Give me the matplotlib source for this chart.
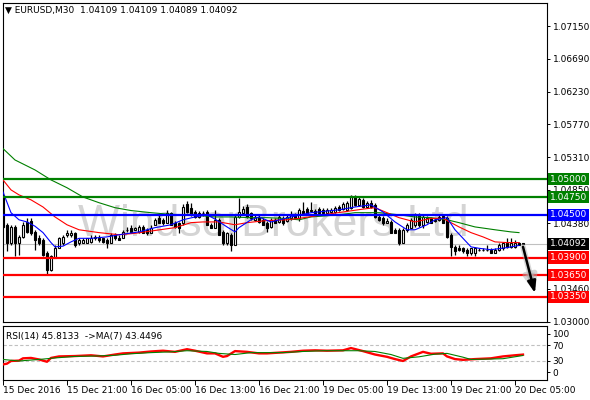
import matplotlib
matplotlib.use("Agg")
import matplotlib.pyplot as plt
import numpy as np

# ---------------- data ----------------
opens = [1.0478,1.0436,1.0411,1.0433,1.0411,1.0419,1.0440,1.0442,1.0426,1.0418,
         1.0414,1.0396,1.0373,1.0390,1.0404,1.0411,1.0422,1.0421,1.0425,1.0411,
         1.0411,1.0411,1.0412,1.0418,1.0418,1.0417,1.0415,1.0411,1.0422,1.0418,
         1.0418,1.0428,1.0432,1.0429,1.0426,1.0433,1.0428,1.0425,1.0436,1.0446,
         1.0443,1.0439,1.0452,1.0439,1.0438,1.0438,1.0465,1.0460,1.0454,1.0447,
         1.0453,1.0454,1.0436,1.0432,1.0443,1.0426,1.0411,1.0422,1.0408,1.0447,
         1.0453,1.0461,1.0452,1.0443,1.0447,1.0443,1.0439,1.0433,1.0443,1.0440,
         1.0446,1.0442,1.0445,1.0450,1.0445,1.0456,1.0458,1.0456,1.0456,1.0458,
         1.0457,1.0453,1.0454,1.0454,1.0461,1.0458,1.0457,1.0460,1.0475,1.0464,
         1.0471,1.0461,1.0467,1.0464,1.0447,1.0446,1.0439,1.0440,1.0428,1.0429,
         1.0411,1.0428,1.0432,1.0435,1.0450,1.0435,1.0440,1.0445,1.0442,1.0443,
         1.0449,1.0446,1.0422,1.0405,1.0404,1.0403,1.0401,1.0396,1.0397,1.0400,
         1.0401,1.0400,1.0401,1.0397,1.0400,1.0403,1.0411,1.0405,1.0405,1.0411,
         1.04109]
closes = [1.0433,1.0411,1.0433,1.0410,1.0419,1.0436,1.0426,1.0425,1.0415,1.0411,
          1.0394,1.0373,1.0392,1.0404,1.0418,1.0419,1.0424,1.0425,1.0408,1.0415,
          1.0415,1.0417,1.0418,1.0419,1.0414,1.0412,1.0410,1.0422,1.0417,1.0415,
          1.0426,1.0429,1.0426,1.0431,1.0433,1.0425,1.0424,1.0432,1.0443,1.0439,
          1.0438,1.0453,1.0436,1.0433,1.0432,1.0461,1.0454,1.0450,1.0447,1.0453,
          1.0452,1.0436,1.0432,1.0443,1.0422,1.0411,1.0424,1.0408,1.0447,1.0454,
          1.0458,1.0447,1.0445,1.0447,1.0440,1.0436,1.0432,1.0443,1.0439,1.0447,
          1.0439,1.0447,1.0450,1.0446,1.0457,1.0453,1.0453,1.0457,1.0453,1.0453,
          1.0453,1.0457,1.0457,1.0460,1.0457,1.0465,1.0467,1.0477,1.0464,1.0472,
          1.0461,1.0467,1.0461,1.0447,1.0443,1.0439,1.0442,1.0425,1.0425,1.0411,
          1.0429,1.0435,1.0443,1.0450,1.0435,1.0447,1.0446,1.0439,1.0443,1.0447,
          1.0439,1.0419,1.0405,1.0399,1.0401,1.0399,1.0397,1.0403,1.0403,1.0401,
          1.0400,1.0401,1.0397,1.0401,1.0408,1.0411,1.0405,1.0411,1.0410,1.0408,
          1.04092]
highs = [1.0482,1.0439,1.0436,1.0435,1.0422,1.0440,1.0446,1.0445,1.0429,1.0421,
         1.0417,1.0399,1.0394,1.0407,1.0419,1.0421,1.0429,1.0429,1.0426,1.0418,
         1.0417,1.0418,1.0421,1.0422,1.0421,1.0418,1.0418,1.0425,1.0425,1.0421,
         1.0429,1.0433,1.0435,1.0433,1.0436,1.0436,1.0431,1.0435,1.0446,1.0450,
         1.0446,1.0457,1.0454,1.0442,1.0440,1.0465,1.0470,1.0467,1.0457,1.0456,
         1.0456,1.0457,1.0439,1.0457,1.0445,1.0429,1.0426,1.0425,1.0450,1.0474,
         1.0463,1.0465,1.0454,1.0450,1.0450,1.0446,1.0442,1.0446,1.0446,1.0450,
         1.0449,1.0450,1.0456,1.0453,1.0460,1.0468,1.0461,1.0468,1.0458,1.0461,
         1.0460,1.0460,1.0460,1.0463,1.0464,1.0468,1.0470,1.0478,1.0478,1.0475,
         1.0474,1.0470,1.0471,1.0467,1.0450,1.0449,1.0445,1.0443,1.0431,1.0431,
         1.0432,1.0438,1.0446,1.0452,1.0452,1.0450,1.0449,1.0447,1.0446,1.0450,
         1.0450,1.0449,1.0425,1.0408,1.0407,1.0405,1.0404,1.0404,1.0405,1.0404,
         1.0404,1.0407,1.0404,1.0404,1.0410,1.0412,1.0417,1.0417,1.0415,1.0412,
         1.04109]
lows = [1.0431,1.0399,1.0408,1.0392,1.0394,1.0418,1.0424,1.0421,1.0401,1.0408,
        1.0392,1.0365,1.0371,1.0389,1.0403,1.0408,1.0419,1.0419,1.0405,1.0408,
        1.0410,1.0410,1.0411,1.0415,1.0412,1.0411,1.0404,1.0410,1.0415,1.0414,
        1.0417,1.0426,1.0425,1.0428,1.0425,1.0424,1.0421,1.0424,1.0435,1.0438,
        1.0435,1.0438,1.0435,1.0431,1.0425,1.0436,1.0453,1.0449,1.0446,1.0446,
        1.0449,1.0435,1.0431,1.0431,1.0421,1.0408,1.0408,1.0399,1.0407,1.0446,
        1.0452,1.0446,1.0443,1.0442,1.0439,1.0435,1.0426,1.0432,1.0438,1.0439,
        1.0436,1.0440,1.0443,1.0445,1.0442,1.0452,1.0452,1.0454,1.0452,1.0452,
        1.0452,1.0452,1.0452,1.0453,1.0456,1.0457,1.0456,1.0458,1.0463,1.0463,
        1.0460,1.0460,1.0460,1.0446,1.0442,1.0435,1.0438,1.0424,1.0424,1.0407,
        1.0410,1.0426,1.0431,1.0433,1.0433,1.0432,1.0439,1.0438,1.0440,1.0442,
        1.0438,1.0418,1.0392,1.0393,1.0399,1.0397,1.0392,1.0394,1.0392,1.0399,
        1.0399,1.0399,1.0396,1.0396,1.0399,1.0401,1.0404,1.0404,1.0404,1.0407,
        1.04089]

# moving averages (bar index, value)
ma_blue_idx = [0,2,4,6,8,10,12,13,15,17,19,22,26,29,34,38,42,45,48,51,53,56,58,59,62,64,67,
               72,77,84,88,92,95,98,101,103,106,108,111,113,117,119,122,126,129]
ma_blue_val = [1.0482,1.0453,1.0443,1.0440,1.0434,1.0425,1.0411,1.0405,1.0406,1.0412,1.0417,
               1.0417,1.0419,1.0422,1.0426,1.0432,1.0436,1.0443,1.0447,1.0450,1.0444,1.0433,
               1.0426,1.0432,1.0443,1.0447,1.0440,1.0447,1.0453,1.0457,1.0461,1.0464,1.0454,
               1.0440,1.0429,1.0429,1.0436,1.0443,1.0446,1.0429,1.0405,1.0403,1.0401,1.0404,1.0407]
ma_red_idx = [0,2,4,7,10,13,16,19,24,29,33,38,43,47,50,54,58,61,66,71,74,80,85,90,93,96,99,
              103,107,110,114,117,120,123,126,129]
ma_red_val = [1.0499,1.0485,1.0478,1.0471,1.0461,1.0447,1.0436,1.0429,1.0425,1.0422,1.0424,
              1.0428,1.0432,1.0439,1.0440,1.0440,1.0436,1.0439,1.0442,1.0443,1.0445,1.0450,
              1.0454,1.0458,1.0460,1.0453,1.0446,1.0440,1.0445,1.0445,1.0433,1.0425,1.0419,
              1.0412,1.0411,1.0411]
ma_green_idx = [0,3,8,12,16,20,24,28,32,37,41,45,49,53,57,62,66,70,74,77,84,88,94,99,103,107,
                111,114,118,123,127,129]
ma_green_val = [1.0543,1.0527,1.0513,1.0499,1.0488,1.0475,1.0467,1.0460,1.0456,1.0453,1.0451,
                1.0450,1.0449,1.0447,1.0447,1.0446,1.0446,1.0445,1.0443,1.0447,1.0450,1.0453,
                1.0453,1.0450,1.0447,1.0446,1.0443,1.0439,1.0433,1.0429,1.0426,1.0425]

# RSI(14) and its MA(7)
rsi_idx = [0,1,2,4,5,7,9,10,11,12,14,18,22,25,28,30,34,37,40,43,46,48,51,53,55,56,58,61,64,66,
           69,72,75,78,81,85,87,90,93,96,98,100,102,105,107,110,111,113,115,118,122,125,128,130]
rsi_val = [20,22,29,30,36,37,33,30,27,37,41,42,44,41,46,49,51,54,56,53,60,56,49,49,40,42,55,53,
           49,49,51,53,56,57,56,57,63,55,46,40,34,29,41,53,48,49,41,34,32,34,36,41,44,45.8133]
rsi_ma_idx = [0,4,9,13,18,23,28,32,37,42,46,51,54,58,62,65,70,75,80,84,89,93,97,100,104,108,
              111,115,117,121,125,130]
rsi_ma_val = [33,29,33,37,41,42,44,48,51,53,56,54,49,46,51,51,51,54,56,56,56,54,46,36,40,47,
              49,39,33,34,35,43.4496]

# horizontal levels
level_vals = [1.05000, 1.04750, 1.04500, 1.03900, 1.03650, 1.03350]
level_cols = ["#008000", "#008000", "#0000ff", "#ff0000", "#ff0000", "#ff0000"]
last_price = 1.04092
price_ticks = [1.03000, 1.03460, 1.04380, 1.04850, 1.05310, 1.05770, 1.06230,
               1.06690, 1.07150]
date_labels = ["15 Dec 2016", "15 Dec 21:00", "16 Dec 05:00", "16 Dec 13:00", "16 Dec 21:00",
               "19 Dec 05:00", "19 Dec 13:00", "19 Dec 21:00", "20 Dec 05:00"]
bars_per_label = 16
arrow_from = (130, 1.0405)
arrow_to = (133, 1.0340)

title = "\u25BC EURUSD,M30  1.04109 1.04109 1.04089 1.04092"
rsi_title = "RSI(14) 45.8133  ->MA(7) 43.4496"
watermark = "WindsorBrokers Ltd"

# ---------------- figure ----------------
W, H = 590, 400
fig = plt.figure(figsize=(W / 100, H / 100), dpi=100)
fig.patch.set_facecolor("white")


def rect(x0, y0, x1, y1):
    return [x0 / W, 1 - y1 / H, (x1 - x0) / W, (y1 - y0) / H]


ax = fig.add_axes(rect(3, 3, 547, 322))
axr = fig.add_axes(rect(3, 326, 547, 380))
FS = 6.5

o = np.array(opens); c = np.array(closes); h = np.array(highs); l = np.array(lows)
x = np.arange(len(o))
up = c >= o

ax.text(0.496, 0.305, watermark, transform=ax.transAxes, ha="center", va="center",
        fontsize=32, color="#d4d4d4", family="Liberation Sans", zorder=0)

ax.vlines(x, l, h, color="black", lw=0.9, zorder=3)
bw = 0.62
ax.bar(x[~up], (o - c)[~up], bottom=c[~up], width=bw, color="black", edgecolor="black",
       lw=0.8, zorder=4)
ax.bar(x[up], (c - o)[up], bottom=o[up], width=bw, color="white", edgecolor="black",
       lw=0.8, zorder=4)

ax.plot(ma_green_idx, ma_green_val, color="#008000", lw=0.8, zorder=5)
ax.plot(ma_red_idx, ma_red_val, color="#ff0000", lw=0.8, zorder=5)
ax.plot(ma_blue_idx, ma_blue_val, color="#0000ff", lw=0.8, zorder=5)

ax.axhline(last_price, color="#c0c0c0", lw=0.8, zorder=2)
for v, col in zip(level_vals, level_cols):
    ax.axhline(v, color=col, lw=1.6, zorder=6)

# arrow with soft shadow
ax.annotate("", xy=arrow_to, xytext=arrow_from,
            arrowprops=dict(arrowstyle="-|>,head_length=0.9,head_width=0.35", color="#b0b0b0",
                            lw=4, alpha=0.5, shrinkA=0, shrinkB=0), zorder=7)
ax.annotate("", xy=arrow_to, xytext=arrow_from,
            arrowprops=dict(arrowstyle="-|>,head_length=0.7,head_width=0.25", color="black",
                            lw=1.8, shrinkA=0, shrinkB=0), zorder=8)

ax.set_xlim(0, 136)
ax.set_ylim(1.02995, 1.07474)
ax.set_xticks([])
ax.yaxis.tick_right()
ax.set_yticks(price_ticks)
ax.set_yticklabels(["%.5f" % t for t in price_ticks])
ax.tick_params(axis="y", direction="out", length=2.5, width=0.7, pad=1.5, labelsize=FS,
               colors="black")
for s in ax.spines.values():
    s.set_linewidth(0.8)
    s.set_color("black")

for v, col in zip(level_vals + [last_price], level_cols + ["black"]):
    ax.text(1.0055, v, "%.5f" % v, transform=ax.get_yaxis_transform(), ha="left", va="center",
            fontsize=FS, color="white", clip_on=False, zorder=20,
            bbox=dict(boxstyle="square,pad=0.18", fc=col, ec="none"))

fig.text(5 / W, 1 - 10 / H, title, fontsize=FS, va="center", ha="left", color="black")

# RSI pane
axr.plot(rsi_idx, rsi_val, color="#ff0000", lw=1.7, zorder=4)
axr.plot(rsi_ma_idx, rsi_ma_val, color="#008000", lw=0.8, zorder=5)
for lv in (30, 70):
    axr.axhline(lv, color="#c0c0c0", lw=0.8, ls=(0, (3, 2)), zorder=1)
axr.set_xlim(0, 136)
axr.set_ylim(-21, 121)
axr.yaxis.tick_right()
axr.set_yticks([0, 30, 70, 100])
axr.set_yticklabels(["0", "30", "70", "100"])
axr.tick_params(axis="y", direction="out", length=2.5, width=0.7, pad=1.5, labelsize=FS)
date_pos = np.arange(len(date_labels)) * bars_per_label
axr.set_xticks(date_pos)
axr.set_xticklabels(date_labels)
axr.tick_params(axis="x", direction="out", length=3.5, width=0.7, pad=1.0, labelsize=FS)
for lbl in axr.get_xticklabels():
    lbl.set_ha("left")
for s in axr.spines.values():
    s.set_linewidth(0.8)
    s.set_color("black")
axr.text(0.006, 0.8, rsi_title, transform=axr.transAxes, fontsize=FS, va="center", ha="left")

fig.savefig("out.png", dpi=100, facecolor="white")
